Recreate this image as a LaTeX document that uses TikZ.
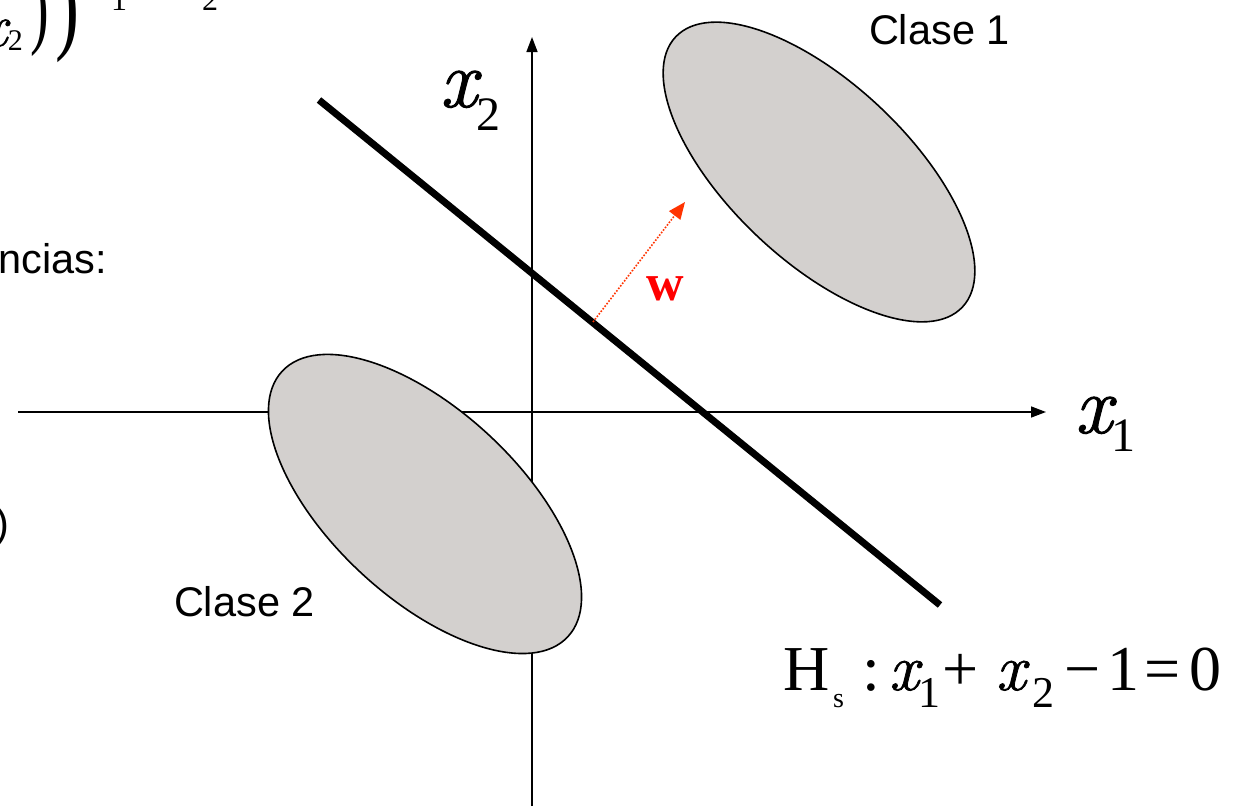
\documentclass[tikz,border=0pt]{standalone}
\usepackage{fontspec}
\setmainfont{Liberation Serif}
\newfontfamily\arialf{Liberation Sans}
\newfontfamily\lmitf[ItalicFeatures={FakeBold=1.2}]{Latin Modern Roman}
\usetikzlibrary{arrows.meta}
\definecolor{ellfill}{RGB}{211,208,206}
\definecolor{warrow}{RGB}{255,51,0}
\newcommand\myfs[1]{\fontsize{#1}{#1}\selectfont}
\newcommand\varx{{\lmitf\itshape x}}
\begin{document}
\begin{tikzpicture}[x=1pt,y=-1pt,
  every node/.style={inner sep=0pt,outer sep=0pt},
  axisline/.style={line width=1.5pt,-{Triangle[length=15pt,width=11pt]}},
  classell/.style={draw=black,line width=1.6pt,fill=ellfill},
  hyper/.style={line width=7pt,line cap=butt},
  wvec/.style={warrow,line width=1.6pt,dash pattern=on 1.6pt off 1.6pt,-{Triangle[length=17pt,width=14pt]}},
  sanslbl/.style={font=\arialf\myfs{41.5}},
  eqbig/.style={font=\myfs{64}},
  eqsub/.style={font=\myfs{44}}]
\useasboundingbox (0,0) rectangle (1237,806);
\clip (0,0) rectangle (1237,806);
% axes
\coordinate (xa0) at (18,412);
\coordinate (xa1) at (1046,412);
\coordinate (ya0) at (532,806);
\coordinate (ya1) at (532,37);
\draw[axisline] (xa0) -- (xa1);
\draw[axisline] (ya0) -- (ya1);
% class ellipses
\coordinate (c1) at (819,172);
\coordinate (c2) at (425,504);
\draw[classell,rotate around={-43.3:(c1)}] (c1) ellipse [x radius=197, y radius=89];
\draw[classell,rotate around={-42.9:(c2)}] (c2) ellipse [x radius=195, y radius=94];
% separating hyperplane
\coordinate (h0) at (319,100);
\coordinate (h1) at (940,605);
\draw[hyper] (h0) -- (h1);
% normal vector w
\coordinate (w0) at (593,322);
\coordinate (w1) at (685,202);
\draw[wvec] (w0) -- (w1);
\node[anchor=base west,text=red,font=\myfs{52}\bfseries] (wlbl) at (646,300) {w};
% axis labels
\node[anchor=base west] (lx2) at (440,107) {\myfs{82}\varx\raisebox{-23pt}{\myfs{48}2}};
\node[anchor=base west] (lx1) at (1075,433) {\myfs{82}\varx\raisebox{-18pt}{\myfs{48}1}};
% class labels
\node[sanslbl,anchor=base west] (cl1) at (869,44) {Clase 1};
\node[sanslbl,anchor=base west] (cl2) at (174,616) {Clase 2};
% hyperplane equation
\node[eqbig,anchor=base west] (eqH) at (783,690) {H};
\node[font=\myfs{28},anchor=base west] (eqs) at (833,707) {s};
\node[eqbig,anchor=base] (eqc) at (871,690) {:};
\node[anchor=base west] (eqx1) at (889,690) {\myfs{66}\varx};
\node[eqsub,anchor=base west] (eqs1) at (918,707) {1};
\node[eqbig,anchor=base] (eqp) at (961,690) {+};
\node[anchor=base west] (eqx2) at (996,690) {\myfs{66}\varx};
\node[eqsub,anchor=base west] (eqs2) at (1032,707) {2};
\node[eqbig,anchor=base] (eqm) at (1083,690) {−};
\node[eqbig,anchor=base] (eq1) at (1123,690) {1};
\node[eqbig,anchor=base] (eqe) at (1163,690) {=};
\node[eqbig,anchor=base] (eq0) at (1205,690) {0};
% cropped slide fragments at the left edge
\node[anchor=base east] (fx) at (7,46) {\myfs{60}\varx};
\node[anchor=base west,font=\myfs{30}] (f2) at (8,50) {2};
\node[anchor=base west] (fp1) at (30,37) {\myfs{56}\scalebox{1}[1.6]{)}};
\node[anchor=base west] (fp2) at (55,40) {\myfs{72}\scalebox{1}[1.45]{)}};
\node[anchor=base west,font=\myfs{32}] (fs1) at (111,10) {1};
\node[anchor=base west,font=\myfs{32}] (fs2) at (202,10) {2};
\node[sanslbl,anchor=base east] (fnc) at (107,273) {ncias:};
\node[sanslbl,anchor=base west] (fpar) at (-5,537) {)};
\end{tikzpicture}
\end{document}
